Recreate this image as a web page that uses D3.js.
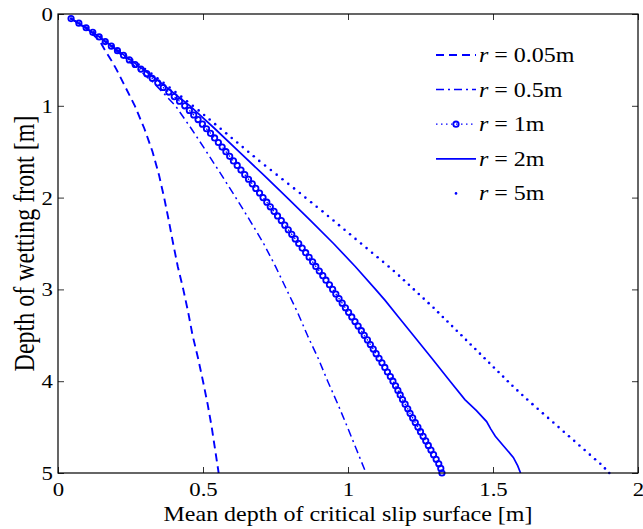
<!DOCTYPE html>
<html>
<head>
<meta charset="utf-8">
<script src="https://cdn.jsdelivr.net/npm/d3@7"></script>
<style>
  body { margin: 0; background: #fff; }
  svg { display: block; }
  text { font-family: "Liberation Serif", "Times New Roman", serif; fill: #000; }
</style>
</head>
<body>
<svg id="chart" width="643" height="529"></svg>
<script>
// Depth of wetting front [m] at which the densely sampled runs were evaluated
const depthGrid = [
  0.05,0.10,0.15,0.20,0.25,0.30,0.35,0.40,0.45,0.50,
  0.55,0.60,0.65,0.70,0.75,0.80,0.85,0.90,0.95,1.00,
  1.05,1.10,1.15,1.20,1.25,1.30,1.35,1.40,1.45,1.50,
  1.55,1.60,1.65,1.70,1.75,1.80,1.85,1.90,1.95,2.00,
  2.05,2.10,2.15,2.20,2.25,2.30,2.35,2.40,2.45,2.50,
  2.55,2.60,2.65,2.70,2.75,2.80,2.85,2.90,2.95,3.00,
  3.05,3.10,3.15,3.20,3.25,3.30,3.35,3.40,3.45,3.50,
  3.55,3.60,3.65,3.70,3.75,3.80,3.85,3.90,3.95,4.00,
  4.05,4.10,4.15,4.20,4.25,4.30,4.35,4.40,4.45,4.50,
  4.55,4.60,4.65,4.70,4.75,4.80,4.85,4.90,4.95,5.00
];

// r = 0.05 m : mean slip-surface depth [m]
const depthR005 = [0.05,0.15,0.25,0.30,0.40,0.50,0.60,0.75,1.00,1.25,1.50,1.75,2.00,2.25,2.50,2.75,3.00,3.25,3.50,3.75,4.00,4.25,4.50,4.75,5.00];
const slipR005  = [0.045,0.098,0.130,0.145,0.163,0.183,0.201,0.225,0.265,0.298,0.326,0.348,0.366,0.382,0.397,0.413,0.432,0.449,0.464,0.483,0.500,0.516,0.530,0.542,0.554];

// r = 0.5 m
const depthR05 = [0.05,0.25,0.50,0.75,1.00,1.25,1.50,1.75,2.00,2.25,2.50,2.75,3.00,3.25,3.50,3.75,4.00,4.25,4.50,4.75,5.00];
const slipR05  = [0.045,0.141,0.240,0.330,0.405,0.460,0.512,0.563,0.613,0.662,0.709,0.750,0.788,0.826,0.860,0.897,0.930,0.965,0.998,1.030,1.062];

// r = 1 m (sampled on depthGrid)
const slipR1 = [
  0.045,0.072,0.097,0.120,0.142,0.163,0.184,0.205,0.226,0.246,
  0.266,0.286,0.306,0.325,0.344,0.363,0.382,0.401,0.419,0.437,
  0.453,0.468,0.483,0.498,0.512,0.526,0.540,0.553,0.566,0.579,
  0.592,0.605,0.618,0.631,0.644,0.657,0.670,0.682,0.695,0.707,
  0.720,0.732,0.745,0.757,0.770,0.782,0.794,0.806,0.818,0.830,
  0.842,0.854,0.866,0.878,0.889,0.901,0.913,0.924,0.936,0.947,
  0.958,0.969,0.980,0.991,1.002,1.013,1.024,1.035,1.046,1.056,
  1.067,1.077,1.087,1.097,1.107,1.117,1.127,1.136,1.146,1.155,
  1.164,1.172,1.180,1.188,1.197,1.206,1.214,1.223,1.232,1.241,
  1.250,1.259,1.268,1.277,1.286,1.295,1.304,1.313,1.320,1.324
];

// r = 2 m
const depthR2 = [0.05,0.25,0.50,0.75,1.00,1.25,1.50,1.75,2.00,2.25,2.50,2.75,3.00,3.12,3.30,3.50,3.75,4.00,4.20,4.32,4.44,4.52,4.60,4.70,4.83,4.92,5.00];
const slipR2  = [0.045,0.143,0.250,0.355,0.455,0.541,0.624,0.708,0.790,0.871,0.950,1.025,1.095,1.128,1.174,1.225,1.289,1.352,1.403,1.443,1.478,1.492,1.508,1.535,1.570,1.585,1.595];

// r = 5 m (sampled on depthGrid)
const slipR5 = [
  0.045,0.073,0.099,0.123,0.146,0.168,0.190,0.212,0.234,0.256,
  0.278,0.300,0.322,0.343,0.364,0.385,0.405,0.425,0.445,0.465,
  0.485,0.504,0.523,0.542,0.561,0.580,0.599,0.618,0.637,0.656,
  0.675,0.694,0.714,0.734,0.754,0.774,0.794,0.814,0.834,0.853,
  0.873,0.892,0.912,0.931,0.950,0.969,0.988,1.007,1.026,1.045,
  1.064,1.083,1.102,1.121,1.140,1.158,1.176,1.193,1.210,1.227,
  1.244,1.261,1.278,1.295,1.311,1.327,1.343,1.359,1.375,1.391,
  1.407,1.423,1.439,1.455,1.471,1.487,1.503,1.519,1.535,1.551,
  1.567,1.584,1.601,1.618,1.636,1.654,1.672,1.690,1.708,1.726,
  1.744,1.762,1.780,1.798,1.816,1.834,1.852,1.870,1.886,1.901
];

const legendLabels = ["0.05m", "0.5m", "1m", "2m", "5m"];
const xTicks = [0, 0.5, 1, 1.5, 2];
const yTicks = [0, 1, 2, 3, 4, 5];

const BLUE = "#0000ff";
const svg = d3.select("#chart");
const plot = { left: 58, right: 638, top: 14, bottom: 473 };
const x = d3.scaleLinear().domain([0, 2]).range([plot.left, plot.right]);
const y = d3.scaleLinear().domain([0, 5]).range([plot.top, plot.bottom]);
const SX = 1.2; // horizontal glyph stretch

const zip = (ds, xs) => ds.map((d, i) => ({ d, s: xs[i] }));
const line = d3.line().x(p => x(p.s)).y(p => y(p.d));

const series = [
  { pts: zip(depthR005, slipR005), dash: "8,5", width: 1.9 },
  { pts: zip(depthR05, slipR05), dash: "8,4,2,4", width: 1.5 },
  { pts: zip(depthGrid, slipR1), dash: "1.5,3.5", width: 1.3, marker: "circle" },
  { pts: zip(depthR2, slipR2), dash: null, width: 1.7 },
  { pts: zip(depthGrid, slipR5), dash: null, width: 0, marker: "dot" }
];

const gPlot = svg.append("g");
series.forEach(s => {
  if (s.width > 0) {
    gPlot.append("path")
      .datum(s.pts)
      .attr("d", line)
      .attr("fill", "none")
      .attr("stroke", BLUE)
      .attr("stroke-width", s.width)
      .attr("stroke-dasharray", s.dash);
  }
  if (s.marker === "circle") {
    gPlot.append("g").selectAll("circle").data(s.pts).join("circle")
      .attr("cx", p => x(p.s)).attr("cy", p => y(p.d))
      .attr("r", 2.7).attr("fill", "none")
      .attr("stroke", BLUE).attr("stroke-width", 1.8);
  }
  if (s.marker === "dot") {
    gPlot.append("g").selectAll("circle").data(s.pts).join("circle")
      .attr("cx", p => x(p.s)).attr("cy", p => y(p.d))
      .attr("r", 1.3).attr("fill", BLUE);
  }
});

// Axes: ticks point inward on all four sides
const tick = 6;
const axB = svg.append("g").attr("transform", `translate(0,${plot.bottom})`)
  .call(d3.axisBottom(x).tickValues(xTicks).tickSizeInner(-tick).tickSizeOuter(0).tickPadding(10)
    .tickFormat(d => String(d)));
const axT = svg.append("g").attr("transform", `translate(0,${plot.top})`)
  .call(d3.axisTop(x).tickValues(xTicks).tickSizeInner(-tick).tickSizeOuter(0).tickFormat(""));
const axL = svg.append("g").attr("transform", `translate(${plot.left},0)`)
  .call(d3.axisLeft(y).tickValues(yTicks).tickSizeInner(-tick).tickSizeOuter(0).tickPadding(5)
    .tickFormat(d => String(d)));
const axR = svg.append("g").attr("transform", `translate(${plot.right},0)`)
  .call(d3.axisRight(y).tickValues(yTicks).tickSizeInner(-tick).tickSizeOuter(0).tickFormat(""));

[axB, axT, axL, axR].forEach(a => {
  a.select(".domain").remove();
  a.selectAll(".tick line").attr("stroke", "#333").attr("stroke-width", 1);
});
axB.selectAll(".tick text").attr("font-size", 19).attr("fill", "#000")
  .attr("font-family", "Liberation Serif")
  .attr("transform", `scale(${SX},1)`);
axL.selectAll(".tick text").attr("font-size", 19).attr("fill", "#000")
  .attr("font-family", "Liberation Serif")
  .attr("x", -5 / SX).attr("dy", "0.34em")
  .attr("transform", `scale(${SX},1)`);

// frame
svg.append("rect")
  .attr("x", plot.left).attr("y", plot.top)
  .attr("width", plot.right - plot.left).attr("height", plot.bottom - plot.top)
  .attr("fill", "none").attr("stroke", "#000").attr("stroke-width", 1.2);

// axis titles
svg.append("text")
  .attr("transform", `translate(${(plot.left + plot.right) / 2},521) scale(${SX},1)`)
  .attr("text-anchor", "middle").attr("font-size", 20)
  .text("Mean depth of critical slip surface [m]");
svg.append("text")
  .attr("transform", `translate(34,${(plot.top + plot.bottom) / 2}) scale(${SX},1) rotate(-90)`)
  .attr("text-anchor", "middle").attr("font-size", 24)
  .text("Depth of wetting front [m]");

// legend
const legY0 = 55, legDY = 34.6, lx0 = 436, lx1 = 476;
const leg = svg.append("g");
series.forEach((s, i) => {
  const cy = legY0 + i * legDY;
  if (s.width > 0) {
    leg.append("line").attr("x1", lx0).attr("x2", lx1).attr("y1", cy).attr("y2", cy)
      .attr("stroke", BLUE).attr("stroke-width", s.width).attr("stroke-dasharray", s.dash);
  }
  if (s.marker === "circle") {
    leg.append("circle").attr("cx", (lx0 + lx1) / 2).attr("cy", cy).attr("r", 2.7)
      .attr("fill", "none").attr("stroke", BLUE).attr("stroke-width", 1.8);
  }
  if (s.marker === "dot") {
    leg.append("circle").attr("cx", (lx0 + lx1) / 2).attr("cy", cy).attr("r", 1.3).attr("fill", BLUE);
  }
  const t = leg.append("text")
    .attr("transform", `translate(479,${cy + 7}) scale(${SX},1)`)
    .attr("font-size", 20);
  t.append("tspan").attr("font-style", "italic").text("r");
  t.append("tspan").text(" = " + legendLabels[i]);
});
</script>
</body>
</html>
